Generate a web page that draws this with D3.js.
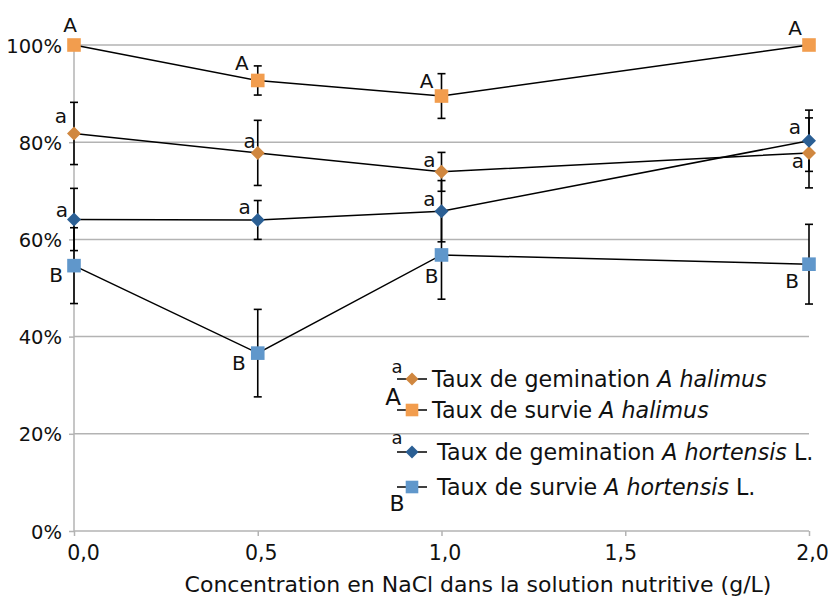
<!DOCTYPE html>
<html>
<head>
<meta charset="utf-8">
<script src="https://cdn.jsdelivr.net/npm/d3@7/dist/d3.min.js"></script>
<style>
  html, body { margin: 0; padding: 0; background: #fff; }
  svg { display: block; font-family: "DejaVu Sans", sans-serif; }
</style>
</head>
<body>
<svg id="chart" width="828" height="598"></svg>
<script>
// ---------- DATA ----------
const concentrations = [0, 0.5, 1.0, 2.0];
const xTickValues = [0, 0.5, 1.0, 1.5, 2.0];
const xTickLabels = ["0,0", "0,5", "1,0", "1,5", "2,0"];
const yTickValues = [0, 20, 40, 60, 80, 100];
const yTickLabels = ["0%", "20%", "40%", "60%", "80%", "100%"];

const germHalimus = [81.8, 77.8, 73.9, 77.8];
const germHalimusErr = [6.4, 6.7, 4.0, 7.2];
const germHalimusLetters = ["a", "a", "a", "a"];

const survHalimus = [100, 92.7, 89.5, 100];
const survHalimusErr = [0, 3.0, 4.6, 0];
const survHalimusLetters = ["A", "A", "A", "A"];

const germHortensis = [64.1, 64.0, 65.8, 80.3];
const germHortensisErr = [6.4, 4.0, 6.3, 6.3];
const germHortensisLetters = ["a", "a", "a", "a"];

const survHortensis = [54.6, 36.6, 56.8, 54.9];
const survHortensisErr = [7.8, 9.0, 9.1, 8.2];
const survHortensisLetters = ["B", "B", "B", "B"];

const xTitle = "Concentration en NaCl dans la solution nutritive (g/L)";

// ---------- STYLE ----------
const series = [
  { name: ["Taux de gemination ", "A halimus", ""], values: germHalimus, err: germHalimusErr, letters: germHalimusLetters,
    shape: "diamond", color: "#D0873F",
    labelOffsets: [[-13, -18], [-8, -12], [-12, -12], [-11, 8]],
    legendLetter: { dx: -15, dy: -12, size: 18 }, legendTextDx: 20 },
  { name: ["Taux de survie ", "A halimus", ""], values: survHalimus, err: survHalimusErr, letters: survHalimusLetters,
    shape: "square", color: "#F29D4E",
    labelOffsets: [[-4, -20], [-16, -18], [-15, -15], [-14, -17]],
    legendLetter: { dx: -19, dy: -13, size: 23 }, legendTextDx: 20 },
  { name: ["Taux de gemination ", "A hortensis", " L."], values: germHortensis, err: germHortensisErr, letters: germHortensisLetters,
    shape: "diamond", color: "#2B5F94",
    labelOffsets: [[-12, -10], [-13, -13], [-12, -12], [-14, -14]],
    legendLetter: { dx: -15, dy: -14, size: 18 }, legendTextDx: 25 },
  { name: ["Taux de survie ", "A hortensis", " L."], values: survHortensis, err: survHortensisErr, letters: survHortensisLetters,
    shape: "square", color: "#6097CB",
    labelOffsets: [[-18, 9], [-19, 10], [-10, 21], [-17, 17]],
    legendLetter: { dx: -15, dy: 16, size: 22 }, legendTextDx: 25 }
];
const legendRows = [379, 410, 452, 487];
const legendX = 412;

const svg = d3.select("#chart");
svg.append("rect").attr("width", 828).attr("height", 598).attr("fill", "#fff");

const x = d3.scaleLinear().domain([0, 2]).range([74, 809]);
const y = d3.scaleLinear().domain([0, 100]).range([531, 45]);
const gridColor = "#b3b3b3";

// gridlines
svg.append("g").selectAll("line").data(yTickValues.filter(v => v > 0)).join("line")
  .attr("x1", x(0)).attr("x2", x(2)).attr("y1", d => y(d)).attr("y2", d => y(d))
  .attr("stroke", gridColor).attr("stroke-width", 1.5);

// y axis
const yAxis = d3.axisLeft(y).tickValues(yTickValues).tickSize(5).tickPadding(7)
  .tickFormat((d, i) => yTickLabels[i]);
const gy = svg.append("g").attr("transform", `translate(${x(0)},0)`).call(yAxis);
gy.select(".domain").attr("stroke", gridColor).attr("stroke-width", 1.5).attr("d", `M0,${y(0)}V${y(100)}`);
gy.selectAll(".tick line").attr("stroke", gridColor).attr("stroke-width", 1.5);
gy.selectAll(".tick text").attr("font-size", 19.5).attr("fill", "#111").attr("font-family", "DejaVu Sans").attr("dy", "0.36em");

// x axis
const xAxis = d3.axisBottom(x).tickValues(xTickValues).tickSize(5).tickPadding(9)
  .tickFormat((d, i) => xTickLabels[i]);
const gx = svg.append("g").attr("transform", `translate(0,${y(0)})`).call(xAxis);
gx.select(".domain").attr("stroke", gridColor).attr("stroke-width", 1.5).attr("d", `M${x(0)},0H${x(2)}`);
gx.selectAll(".tick line").attr("stroke", gridColor).attr("stroke-width", 1.5);
gx.selectAll(".tick text").attr("font-size", 20.5).attr("fill", "#111").attr("font-family", "DejaVu Sans")
  .attr("dx", (d, i) => i === 0 ? 9 : (i === 3 ? -5 : 3));

// x title
svg.append("text").attr("x", 478).attr("y", 592).attr("text-anchor", "middle")
  .attr("font-size", 22).attr("fill", "#111").text(xTitle);

const line = d3.line().x((d, i) => x(concentrations[i])).y(d => y(d));
function markerPath(shape, s) {
  if (shape === "square") return `M${-s},${-s}H${s}V${s}H${-s}Z`;
  return `M0,${-s}L${s},0L0,${s}L${-s},0Z`;
}

// lines
series.forEach(s => {
  svg.append("path").datum(s.values).attr("d", line)
    .attr("fill", "none").attr("stroke", "#000").attr("stroke-width", 1.5);
});

// error bars
series.forEach(s => {
  const g = svg.append("g").attr("stroke", "#000").attr("stroke-width", 1.6);
  s.values.forEach((v, i) => {
    if (!s.err[i]) return;
    const cx = x(concentrations[i]);
    const y1 = y(v + s.err[i]), y2 = y(v - s.err[i]);
    g.append("line").attr("x1", cx).attr("x2", cx).attr("y1", y1).attr("y2", y2);
    g.append("line").attr("x1", cx - 4).attr("x2", cx + 4).attr("y1", y1).attr("y2", y1);
    g.append("line").attr("x1", cx - 4).attr("x2", cx + 4).attr("y1", y2).attr("y2", y2);
  });
});

// markers
series.forEach(s => {
  svg.append("g").selectAll("path").data(s.values).join("path")
    .attr("transform", (d, i) => `translate(${x(concentrations[i])},${y(d)})`)
    .attr("d", markerPath(s.shape, s.shape === "square" ? 6.8 : 7))
    .attr("fill", s.color);
});

// letter labels
series.forEach(s => {
  svg.append("g").selectAll("text").data(s.values).join("text")
    .attr("x", (d, i) => x(concentrations[i]) + s.labelOffsets[i][0])
    .attr("y", (d, i) => y(d) + s.labelOffsets[i][1])
    .attr("text-anchor", "middle").attr("dy", "0.36em")
    .attr("font-size", 20).attr("fill", "#111")
    .text((d, i) => s.letters[i]);
});

// legend
series.forEach((s, k) => {
  const ly = legendRows[k];
  const g = svg.append("g");
  g.append("line").attr("x1", legendX - 15).attr("x2", legendX + 15).attr("y1", ly).attr("y2", ly)
    .attr("stroke", "#000").attr("stroke-width", 1.5);
  g.append("path").attr("transform", `translate(${legendX},${ly})`)
    .attr("d", markerPath(s.shape, s.shape === "square" ? 6.3 : 6.5)).attr("fill", s.color);
  g.append("text").attr("x", legendX + s.legendLetter.dx).attr("y", ly + s.legendLetter.dy)
    .attr("dy", "0.36em").attr("text-anchor", "middle")
    .attr("font-size", s.legendLetter.size).attr("fill", "#111").text(s.letters[0]);
  const t = g.append("text").attr("x", legendX + s.legendTextDx).attr("y", ly).attr("dy", "0.36em")
    .attr("font-size", 22.2).attr("fill", "#111");
  t.append("tspan").text(s.name[0]);
  t.append("tspan").attr("font-style", "italic").text(s.name[1]);
  t.append("tspan").text(s.name[2]);
});
</script>
</body>
</html>
